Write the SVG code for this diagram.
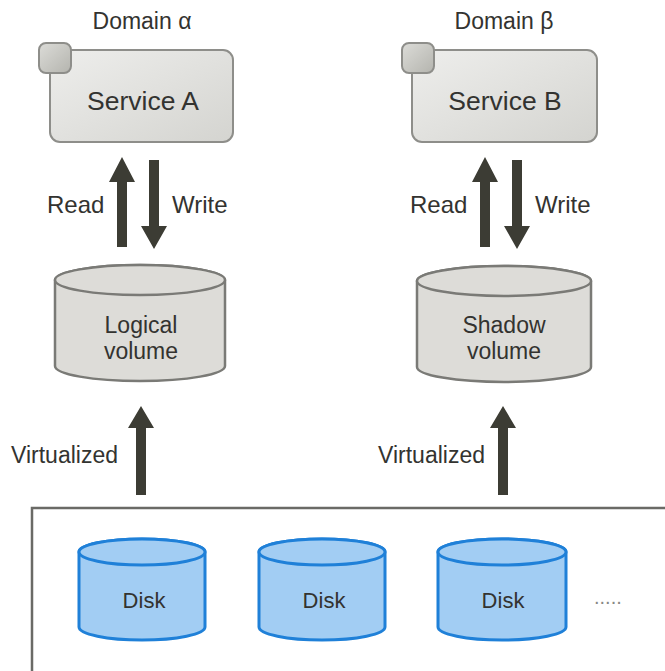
<svg xmlns="http://www.w3.org/2000/svg" width="665" height="671" viewBox="0 0 665 671">
<defs>
<linearGradient id="gBox" x1="0" y1="0" x2="1" y2="1">
<stop offset="0" stop-color="#eeeeec"/>
<stop offset="1" stop-color="#d4d4d0"/>
</linearGradient>
<linearGradient id="gTab" x1="0" y1="0" x2="1" y2="1">
<stop offset="0" stop-color="#dcdcd8"/>
<stop offset="1" stop-color="#b4b4ae"/>
</linearGradient>
<style>
text{font-family:"Liberation Sans",Arial,sans-serif;fill:#333330;}
.lbl{font-size:23px;}
.rw{font-size:24px;}
.dsk{font-size:22px;text-anchor:middle;}
.svc{font-size:26.5px;text-anchor:middle;}
.dom{font-size:23px;text-anchor:middle;}
.mid{text-anchor:middle;}
.box{fill:url(#gBox);stroke:#8e8e8a;stroke-width:2;}
.tab{fill:url(#gTab);stroke:#8e8e8a;stroke-width:2;}
.vol{fill:#dddcd8;stroke:#7a7a76;stroke-width:2.5;}
.disk{fill:#a2cdf3;stroke:#1f80d8;stroke-width:3;}
.arr{fill:#3c3c34;}
</style>
</defs>
<rect width="665" height="671" fill="#ffffff"/>

<g id="domainA">
<text class="dom" x="142" y="29">Domain α</text>
</g>
<g id="domainB">
<text class="dom" x="504" y="29">Domain β</text>
</g>

<g id="serviceA">
<rect class="box" x="50" y="50" width="183" height="92" rx="10"/>
<rect class="tab" x="39" y="43" width="32" height="30" rx="7"/>
<text class="svc" x="143" y="110">Service A</text>
</g>
<g id="serviceB">
<rect class="box" x="412" y="50" width="185" height="92" rx="10"/>
<rect class="tab" x="402" y="43" width="32" height="30" rx="7"/>
<text class="svc" x="505" y="110">Service B</text>
</g>

<g id="logicalVolume">
<path class="vol" d="M55,280 v86 a85,15 0 0 0 170,0 v-86 a85,15 0 0 0 -170,0 z"/>
<ellipse class="vol" cx="140" cy="280" rx="85" ry="15"/>
<text class="lbl mid" x="141" y="333">Logical</text>
<text class="lbl mid" x="141" y="359">volume</text>
</g>
<g id="shadowVolume">
<path class="vol" d="M417,281 v86 a87,15 0 0 0 174,0 v-86 a87,15 0 0 0 -174,0 z"/>
<ellipse class="vol" cx="504" cy="281" rx="87" ry="15"/>
<text class="lbl mid" x="504" y="333">Shadow</text>
<text class="lbl mid" x="504" y="359">volume</text>
</g>

<g id="storage">
<path d="M32,671 V508 H665" fill="none" stroke="#6a6a66" stroke-width="2.5"/>
</g>
<g id="disk1">
<path class="disk" d="M79,552 v75 a63,13 0 0 0 126,0 v-75 a63,13 0 0 0 -126,0 z"/>
<ellipse class="disk" cx="142" cy="552" rx="63" ry="13"/>
<text class="dsk" x="144" y="608">Disk</text>
</g>
<g id="disk2">
<path class="disk" d="M259,552 v75 a63,13 0 0 0 126,0 v-75 a63,13 0 0 0 -126,0 z"/>
<ellipse class="disk" cx="322" cy="552" rx="63" ry="13"/>
<text class="dsk" x="324" y="608">Disk</text>
</g>
<g id="disk3">
<path class="disk" d="M438,552 v75 a64,13 0 0 0 128,0 v-75 a64,13 0 0 0 -128,0 z"/>
<ellipse class="disk" cx="502" cy="552" rx="64" ry="13"/>
<text class="dsk" x="503" y="608">Disk</text>
</g>
<g id="more">
<text x="594" y="604" style="font-size:20px;fill:#888884;letter-spacing:0px">.....</text>
</g>

<g id="connectors">
<polygon class="arr" points="117,247 127,247 127,182 135,182 122,157 109,182 117,182"/>
<polygon class="arr" points="149,160 159,160 159,226 167,226 154,249 141,226 149,226"/>
<polygon class="arr" points="480,247 490,247 490,182 498,182 485,157 472,182 480,182"/>
<polygon class="arr" points="512,160 522,160 522,226 530,226 517,249 504,226 512,226"/>
<polygon class="arr" points="136,495 146,495 146,428 154,428 141,406 128,428 136,428"/>
<polygon class="arr" points="498,495 508,495 508,428 516,428 503,406 490,428 498,428"/>
<text class="rw" x="47" y="213">Read</text>
<text class="rw" x="172" y="213">Write</text>
<text class="rw" x="410" y="213">Read</text>
<text class="rw" x="535" y="213">Write</text>
<text class="lbl" x="11" y="463">Virtualized</text>
<text class="lbl" x="378" y="463">Virtualized</text>
</g>
</svg>
